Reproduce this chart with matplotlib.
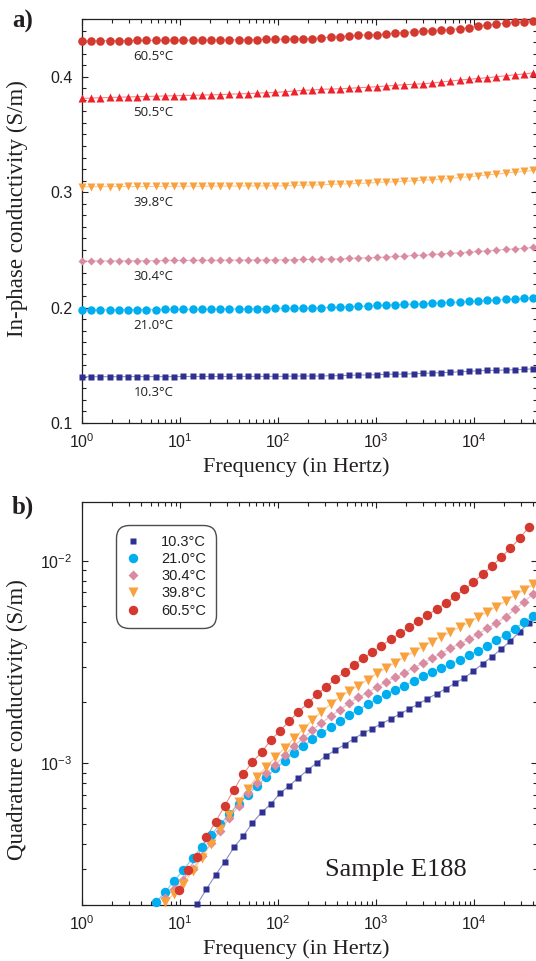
import numpy as np
import matplotlib
matplotlib.use('Agg')
import matplotlib.pyplot as plt
from matplotlib.ticker import LogLocator, MultipleLocator, NullFormatter

## measured frequencies (Hz), same set for every run
freq = [1.0, 1.241, 1.541, 1.913, 2.375, 2.948, 3.660, 4.543, 5.639, 7.000,
        8.690, 10.79, 13.39, 16.62, 20.64, 25.62, 31.80, 39.48, 49.01, 60.83,
        75.51, 93.74, 116.4, 144.5, 179.3, 222.6, 276.3, 343.0, 425.8, 528.6,
        656.1, 814.5, 1011, 1255, 1558, 1934, 2401, 2981, 3700, 4593,
        5702, 7078, 8786, 10910, 13540, 16810, 20860, 25900, 32150, 39910]
# the 10.3 and 60.5 runs of panel b sit half a step off
freq_b2 = [9.68, 12.02, 14.92, 18.52, 22.99, 28.54, 35.43, 43.98, 54.60, 67.78,
           84.14, 104.4, 129.7, 161.0, 199.8, 248.0, 307.9, 382.2, 474.5, 589.0,
           731.1, 907.6, 1127, 1399, 1736, 2155, 2675, 3321, 4123, 5118,
           6353, 7887, 9789, 12150, 15090, 18730, 23250, 28860, 35830]

## panel a : in-phase conductivity (S/m)
sig_103 = [0.1401, 0.1401, 0.1401, 0.1401, 0.1401, 0.1402, 0.1402, 0.1402, 0.1402, 0.1402,
           0.1402, 0.1403, 0.1403, 0.1403, 0.1403, 0.1403, 0.1403, 0.1404, 0.1404, 0.1404,
           0.1404, 0.1404, 0.1404, 0.1407, 0.1407, 0.1407, 0.1407, 0.1410, 0.1410, 0.1413,
           0.1416, 0.1416, 0.1419, 0.1421, 0.1424, 0.1424, 0.1427, 0.1430, 0.1433, 0.1436,
           0.1439, 0.1444, 0.1447, 0.1453, 0.1456, 0.1456, 0.1459, 0.1462, 0.1464, 0.1470]
sig_210 = [0.1979, 0.1980, 0.1980, 0.1981, 0.1981, 0.1982, 0.1982, 0.1983, 0.1983, 0.1984,
           0.1984, 0.1985, 0.1985, 0.1986, 0.1986, 0.1987, 0.1988, 0.1988, 0.1989, 0.1990,
           0.1991, 0.1993, 0.1993, 0.1993, 0.1993, 0.1996, 0.1998, 0.2001, 0.2004, 0.2007,
           0.2010, 0.2013, 0.2018, 0.2021, 0.2024, 0.2027, 0.2030, 0.2033, 0.2036, 0.2041,
           0.2044, 0.2047, 0.2053, 0.2056, 0.2062, 0.2064, 0.2070, 0.2073, 0.2079, 0.2087]
sig_304 = [0.2403, 0.2404, 0.2404, 0.2405, 0.2405, 0.2406, 0.2406, 0.2407, 0.2407, 0.2408,
           0.2408, 0.2409, 0.2409, 0.2410, 0.2410, 0.2411, 0.2411, 0.2412, 0.2412, 0.2413,
           0.2413, 0.2414, 0.2415, 0.2416, 0.2417, 0.2417, 0.2420, 0.2423, 0.2423, 0.2426,
           0.2429, 0.2432, 0.2434, 0.2437, 0.2443, 0.2446, 0.2452, 0.2454, 0.2460, 0.2466,
           0.2469, 0.2475, 0.2480, 0.2486, 0.2492, 0.2498, 0.2504, 0.2509, 0.2515, 0.2521]
sig_398 = [0.3047, 0.3047, 0.3048, 0.3048, 0.3048, 0.3049, 0.3049, 0.3049, 0.3050, 0.3050,
           0.3050, 0.3051, 0.3051, 0.3051, 0.3052, 0.3052, 0.3052, 0.3053, 0.3053, 0.3054,
           0.3054, 0.3055, 0.3055, 0.3058, 0.3061, 0.3061, 0.3064, 0.3067, 0.3070, 0.3072,
           0.3075, 0.3078, 0.3084, 0.3087, 0.3090, 0.3093, 0.3098, 0.3104, 0.3107, 0.3113,
           0.3118, 0.3127, 0.3133, 0.3141, 0.3150, 0.3156, 0.3165, 0.3173, 0.3179, 0.3188]
sig_505 = [0.3812, 0.3815, 0.3818, 0.3820, 0.3822, 0.3825, 0.3827, 0.3829, 0.3831, 0.3833,
           0.3835, 0.3837, 0.3839, 0.3841, 0.3843, 0.3845, 0.3848, 0.3851, 0.3854, 0.3857,
           0.3861, 0.3864, 0.3870, 0.3876, 0.3882, 0.3885, 0.3891, 0.3893, 0.3896, 0.3899,
           0.3905, 0.3908, 0.3914, 0.3919, 0.3925, 0.3931, 0.3934, 0.3939, 0.3945, 0.3954,
           0.3962, 0.3971, 0.3977, 0.3985, 0.3991, 0.4000, 0.4008, 0.4017, 0.4023, 0.4034]
sig_605 = [0.4311, 0.4311, 0.4312, 0.4312, 0.4313, 0.4313, 0.4314, 0.4314, 0.4315, 0.4315,
           0.4316, 0.4316, 0.4317, 0.4317, 0.4318, 0.4318, 0.4319, 0.4320, 0.4321, 0.4322,
           0.4323, 0.4325, 0.4325, 0.4328, 0.4328, 0.4331, 0.4337, 0.4343, 0.4348, 0.4354,
           0.4360, 0.4363, 0.4363, 0.4372, 0.4377, 0.4383, 0.4389, 0.4395, 0.4400, 0.4406,
           0.4409, 0.4415, 0.4426, 0.4441, 0.4447, 0.4455, 0.4464, 0.4470, 0.4478, 0.4487]

## panel b : quadrature conductivity (S/m), only the points above 2e-4
q_103 = [2.009e-4, 2.383e-4, 2.805e-4, 3.264e-4, 3.843e-4, 4.371e-4, 5.069e-4, 5.726e-4, 6.292e-4, 7.108e-4,
         7.751e-4, 8.487e-4, 9.266e-4, 1.007e-3, 1.090e-3, 1.163e-3, 1.236e-3, 1.323e-3, 1.407e-3, 1.483e-3,
         1.570e-3, 1.656e-3, 1.753e-3, 1.855e-3, 1.964e-3, 2.086e-3, 2.208e-3, 2.338e-3, 2.494e-3, 2.641e-3,
         2.860e-3, 3.108e-3, 3.365e-3, 3.673e-3, 4.022e-3, 4.472e-3, 4.955e-3]
q_210 = [2.055e-4, 2.303e-4, 2.619e-4, 2.970e-4, 3.395e-4, 3.870e-4, 4.420e-4, 4.995e-4, 5.604e-4, 6.292e-4,
         6.970e-4, 7.742e-4, 8.555e-4, 9.447e-4, 1.030e-3, 1.120e-3, 1.218e-3, 1.314e-3, 1.407e-3, 1.512e-3,
         1.615e-3, 1.733e-3, 1.834e-3, 1.964e-3, 2.079e-3, 2.193e-3, 2.303e-3, 2.424e-3, 2.551e-3, 2.692e-3,
         2.827e-3, 2.959e-3, 3.097e-3, 3.241e-3, 3.431e-3, 3.611e-3, 3.822e-3, 4.069e-3, 4.331e-3, 4.638e-3,
         4.995e-3, 5.348e-3]
q_304 = [2.16e-4, 2.39e-4, 2.65e-4, 3.00e-4, 3.48e-4, 4.04e-4, 4.63e-4, 5.35e-4, 6.17e-4, 7.11e-4,
         7.97e-4, 8.93e-4, 9.81e-4, 1.099e-3, 1.218e-3, 1.329e-3, 1.461e-3, 1.587e-3, 1.708e-3, 1.841e-3,
         1.987e-3, 2.120e-3, 2.234e-3, 2.375e-3, 2.532e-3, 2.661e-3, 2.795e-3, 2.969e-3, 3.122e-3, 3.304e-3,
         3.489e-3, 3.703e-3, 3.90e-3, 4.10e-3, 4.36e-3, 4.650e-3, 4.937e-3, 5.304e-3, 5.790e-3, 6.293e-3,
         6.893e-3]
q_398 = [2.070e-4, 2.259e-4, 2.531e-4, 2.936e-4, 3.402e-4, 4.014e-4, 4.734e-4, 5.551e-4, 6.475e-4, 7.464e-4,
         8.604e-4, 9.6e-4, 1.07e-3, 1.19e-3, 1.329e-3, 1.473e-3, 1.637e-3, 1.799e-3, 1.964e-3, 2.127e-3,
         2.277e-3, 2.419e-3, 2.596e-3, 2.786e-3, 2.959e-3, 3.150e-3, 3.354e-3, 3.550e-3, 3.771e-3, 4.000e-3,
         4.235e-3, 4.457e-3, 4.718e-3, 4.966e-3, 5.288e-3, 5.597e-3, 5.959e-3, 6.345e-3, 6.792e-3, 7.190e-3,
         7.673e-3]
q_605 = [2.364e-4, 2.970e-4, 3.430e-4, 4.306e-4, 5.145e-4, 6.171e-4, 7.421e-4, 8.834e-4, 1.017e-3, 1.133e-3,
         1.304e-3, 1.449e-3, 1.619e-3, 1.799e-3, 1.980e-3, 2.193e-3, 2.391e-3, 2.605e-3, 2.837e-3, 3.061e-3,
         3.304e-3, 3.538e-3, 3.814e-3, 4.102e-3, 4.391e-3, 4.702e-3, 5.052e-3, 5.410e-3, 5.790e-3, 6.180e-3,
         6.694e-3, 7.248e-3, 7.874e-3, 8.626e-3, 9.447e-3, 1.043e-2, 1.156e-2, 1.295e-2, 1.468e-2]

temps = ['10.3°C', '21.0°C', '30.4°C', '39.8°C', '50.5°C', '60.5°C']

# colours / markers
c_navy, c_cyan, c_pink, c_orng, c_red2, c_red = '#2e3192', '#00aeef', '#d98ba1', '#f9a13c', '#ed2129', '#d3392e'

plt.rcParams['font.family'] = ['Liberation Sans', 'DejaVu Sans']
plt.rcParams['mathtext.fontset'] = 'custom'
plt.rcParams['mathtext.rm'] = 'Liberation Sans'
plt.rcParams['mathtext.it'] = 'Liberation Sans:italic'
plt.rcParams['mathtext.bf'] = 'Liberation Sans:bold'
txtcol = '#231f20'

fig = plt.figure(figsize=(5.36, 9.61), dpi=100)
W, H = 536.0, 961.0
ax1 = fig.add_axes([82/W, 1-423/H, (536.5-82)/W, 404/H])
ax2 = fig.add_axes([82/W, 1-904.7/H, (536.5-82)/W, 402.7/H])


def series(ax, x, y, col, mk, ms, lab=None):
    ax.plot(x, y, '-', color=col, lw=0.8, alpha=0.55, zorder=2, clip_on=False)
    return ax.plot(x, y, ls='none', marker=mk, ms=ms, color=col, mec='none',
                   zorder=3, clip_on=False, label=lab)[0]


## panel a
top = [(sig_103, c_navy, 's', 4.2), (sig_210, c_cyan, 'o', 6.1), (sig_304, c_pink, 'D', 4.2),
       (sig_398, c_orng, 'v', 6.1), (sig_505, c_red2, '^', 6.1), (sig_605, c_red, 'o', 6.2)]
for (vals, col, mk, ms), lab in zip(top, temps):
    series(ax1, freq, vals, col, mk, ms)
    ax1.annotate(lab, xy=(freq[8], vals[8]), xytext=(-1.5, -11.5), textcoords='offset points',
                 ha='center', va='center', fontsize=9.5, family='Open Sans', color=txtcol)

ax1.set_xscale('log')
ax1.set_xlim(1, 4.3e4)
ax1.set_ylim(0.1, 0.45)
ax1.yaxis.set_major_locator(MultipleLocator(0.1))
ax1.yaxis.set_minor_locator(MultipleLocator(0.01))
ax1.set_ylabel('In-phase conductivity (S/m)', family='Liberation Serif', fontsize=16.5, color=txtcol)
ax1.yaxis.set_label_coords(-0.118, 0.53)

## panel b
h = []
h.append(series(ax2, freq_b2[2:], q_103, c_navy, 's', 4.0, temps[0]))
h.append(series(ax2, freq[8:], q_210, c_cyan, 'o', 6.8, temps[1]))
h.append(series(ax2, freq[9:], q_304, c_pink, 'D', 4.6, temps[2]))
h.append(series(ax2, freq[9:], q_398, c_orng, 'v', 6.8, temps[3]))
h.append(series(ax2, freq_b2, q_605, c_red, 'o', 6.8, temps[5]))

ax2.set_xscale('log')
ax2.set_yscale('log')
ax2.set_xlim(1, 4.3e4)
ax2.set_ylim(2.0e-4, 1.96e-2)
ax2.yaxis.set_major_locator(LogLocator(base=10, numticks=10))
ax2.yaxis.set_minor_locator(LogLocator(base=10, subs=np.arange(2, 10), numticks=10))
ax2.yaxis.set_minor_formatter(NullFormatter())
ax2.set_ylabel('Quadrature conductivity (S/m)', family='Liberation Serif', fontsize=16.5, color=txtcol)
ax2.yaxis.set_label_coords(-0.118, 0.46)
ax2.text(0.691, 0.086, 'Sample E188', transform=ax2.transAxes, ha='center', va='center',
         family='Liberation Serif', fontsize=19, color=txtcol)

leg = ax2.legend(handles=h, loc='upper left', bbox_to_anchor=(0.084, 0.933), borderaxespad=0,
                 fontsize=10.5, handlelength=0.9, handletextpad=1.5, borderpad=0.4,
                 labelspacing=0.22, frameon=True, fancybox=True)
leg.get_frame().set_edgecolor(txtcol)
leg.get_frame().set_linewidth(1.0)
leg.get_frame().set_boxstyle('round,pad=0.3,rounding_size=0.9')
for t in leg.get_texts():
    t.set_color(txtcol)

for ax in (ax1, ax2):
    ax.xaxis.set_major_locator(LogLocator(base=10, numticks=10))
    ax.xaxis.set_minor_locator(LogLocator(base=10, subs=np.arange(2, 10), numticks=10))
    ax.xaxis.set_minor_formatter(NullFormatter())
    ax.tick_params(which='both', direction='in', top=True, right=True, labelsize=11.5,
                   width=0.8, color=txtcol, labelcolor=txtcol)
    ax.tick_params(which='major', length=4.5, pad=7)
    ax.tick_params(which='minor', length=2.6)
    for s in ax.spines.values():
        s.set_linewidth(0.9)
        s.set_color(txtcol)
    ax.set_xlabel('Frequency (in Hertz)', family='Liberation Serif', fontsize=16, color=txtcol)
    ax.xaxis.set_label_coords(0.472, -0.086)

fig.text(12/W, 1-21/H, 'a)', family='Liberation Serif', fontweight='bold', fontsize=18,
         ha='left', va='center', color=txtcol)
fig.text(12/W, 1-507/H, 'b)', family='Liberation Serif', fontweight='bold', fontsize=18,
         ha='left', va='center', color=txtcol)

fig.savefig('out.png', dpi=100)
